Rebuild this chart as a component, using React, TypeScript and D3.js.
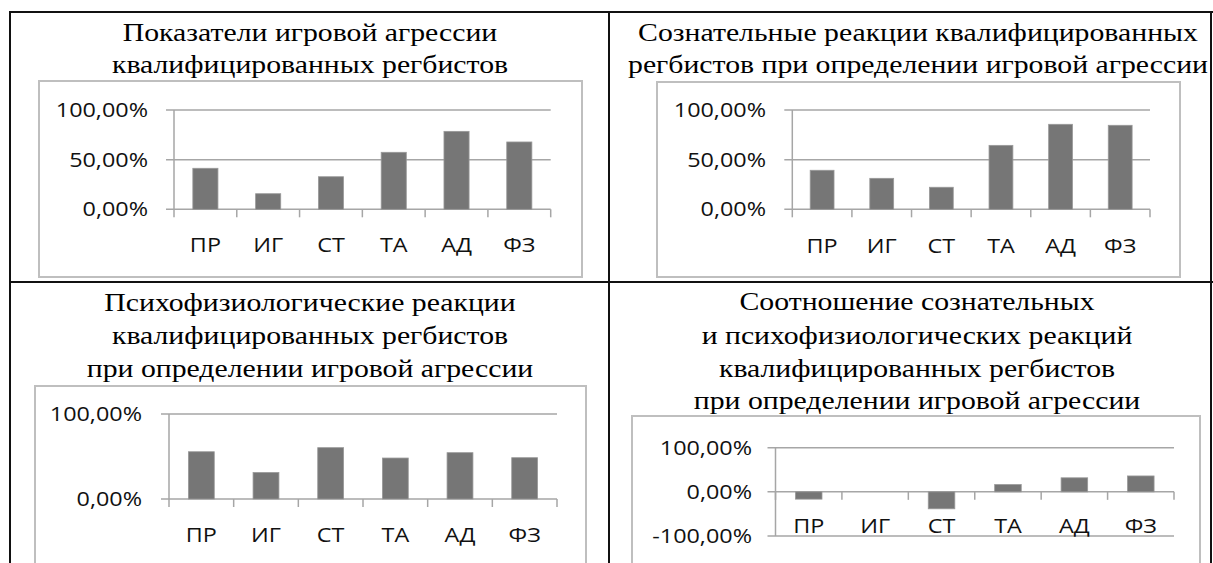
import * as d3 from 'd3';

// categories and values (in %)
const categories = ['ПР', 'ИГ', 'СТ', 'ТА', 'АД', 'ФЗ'];
const aggressionValues = [41.3, 15.7, 32.8, 57.4, 78.5, 67.8];
const consciousValues = [39.3, 31.2, 22.2, 64.4, 85.6, 84.6];
const psychoValues = [55.6, 31.2, 60.4, 48.2, 54.5, 48.6];
const ratioValues = [-16.5, 0, -38.4, 16.5, 31.8, 36];

const ticksThree = [0, 50, 100];
const ticksTwo = [0, 100];
const ticksRatio = [-100, 0, 100];

const title1 = ['Показатели игровой агрессии', 'квалифицированных регбистов'];
const title2 = ['Сознательные реакции квалифицированных', 'регбистов при определении игровой агрессии'];
const title3 = ['Психофизиологические реакции', 'квалифицированных регбистов', 'при определении игровой агрессии'];
const title4 = ['Соотношение сознательных', 'и психофизиологических реакций', 'квалифицированных регбистов', 'при определении игровой агрессии'];

const W = 1213;
const H = 563;
const SX = 1.17; // horizontal stretch of the scanned labels
const SX_TITLE = 1.19;
const SERIF = '"Liberation Serif", "Times New Roman", serif';
const SANS = '"Open Sans", "DejaVu Sans", sans-serif';
const pctFormat = (v: number) => d3.format('.2f')(v).replace('.', ',').replace('−', '-') + '%';

type PanelProps = {
  title: string[];
  titleX: number;
  titleY: number[];
  frame: { x: number; y: number; w: number; h: number };
  x0: number;
  x1: number;
  domain: [number, number];
  yRange: [number, number];
  ticks: number[];
  labelRight: number;
  catBaseline: number;
  values: number[];
};

function Panel(p: PanelProps) {
  const x = d3.scaleBand<string>().domain(categories).range([p.x0, p.x1]).paddingInner(0.6).paddingOuter(0.3);
  const y = d3.scaleLinear().domain(p.domain).range(p.yRange);
  const step = x.step();
  const grid = '#a6a6a6';
  return (
    <g>
      {p.title.map((t, i) => (
        <text key={i} transform={`translate(${p.titleX},${p.titleY[i]}) scale(${SX_TITLE},1)`}
          textAnchor="middle" fontFamily={SERIF} fontSize={25} fill="#000">{t}</text>
      ))}
      <rect x={p.frame.x} y={p.frame.y} width={p.frame.w} height={p.frame.h}
        fill="#fff" stroke="#bfbfbf" strokeWidth={2} />
      {p.ticks.map(t => (
        <g key={t}>
          <line x1={p.x0 - 8} x2={p.x1} y1={y(t)} y2={y(t)} stroke={grid} strokeWidth={1.5} />
          <text transform={`translate(${p.labelRight},${y(t) + 7}) scale(${SX},1)`} textAnchor="end"
            fontFamily={SANS} fontSize={20} fill="#111">{pctFormat(t)}</text>
        </g>
      ))}
      <line x1={p.x0} x2={p.x0} y1={y(p.domain[1])} y2={y(p.domain[0])} stroke={grid} strokeWidth={1.5} />
      {d3.range(categories.length + 1).map(i => (
        <line key={i} x1={p.x0 + i * step} x2={p.x0 + i * step} y1={y(0)} y2={y(0) + 8}
          stroke={grid} strokeWidth={1.5} />
      ))}
      {p.values.map((v, i) => (
        <rect key={i} x={x(categories[i])} width={x.bandwidth()}
          y={Math.min(y(v), y(0))} height={Math.abs(y(v) - y(0))}
          fill="#767676" stroke="#999" strokeWidth={0.8} />
      ))}
      {categories.map(c => (
        <text key={c} transform={`translate(${(x(c) ?? 0) + x.bandwidth() / 2},${p.catBaseline}) scale(${SX},1)`}
          textAnchor="middle" fontFamily={SANS} fontSize={20} fill="#111">{c}</text>
      ))}
    </g>
  );
}

export default function App() {
  return (
    <svg width={W} height={H} style={{ position: 'absolute', left: 0, top: 0, background: '#fff' }}>
      <rect width={W} height={H} fill="#fff" />
      <Panel title={title1} titleX={310} titleY={[41, 73]} frame={{ x: 39, y: 81, w: 543, h: 196 }}
        x0={174} x1={550.7} domain={[0, 100]} yRange={[209.3, 110]} ticks={ticksThree}
        labelRight={148} catBaseline={252} values={aggressionValues} />
      <Panel title={title2} titleX={918} titleY={[41, 73]} frame={{ x: 657, y: 82, w: 523, h: 195 }}
        x0={792.3} x1={1150} domain={[0, 100]} yRange={[209.3, 110]} ticks={ticksThree}
        labelRight={766} catBaseline={253} values={consciousValues} />
      <Panel title={title3} titleX={310} titleY={[311, 344, 377]} frame={{ x: 35, y: 386, w: 551, h: 200 }}
        x0={169} x1={557} domain={[0, 100]} yRange={[499, 414]} ticks={ticksTwo}
        labelRight={142} catBaseline={542} values={psychoValues} />
      <Panel title={title4} titleX={917} titleY={[310, 344, 377, 409]} frame={{ x: 632, y: 416, w: 568, h: 200 }}
        x0={775.5} x1={1174} domain={[-100, 100]} yRange={[536, 447.7]} ticks={ticksRatio}
        labelRight={752} catBaseline={533} values={ratioValues} />
      {/* table borders */}
      <g stroke="#111" strokeWidth={2}>
        <line x1={9} x2={W} y1={12} y2={12} />
        <line x1={9} x2={W} y1={282} y2={282} />
        <line x1={10} x2={10} y1={11} y2={H} />
        <line x1={609} x2={609} y1={11} y2={H} />
        <line x1={1211} x2={1211} y1={11} y2={H} />
      </g>
    </svg>
  );
}
